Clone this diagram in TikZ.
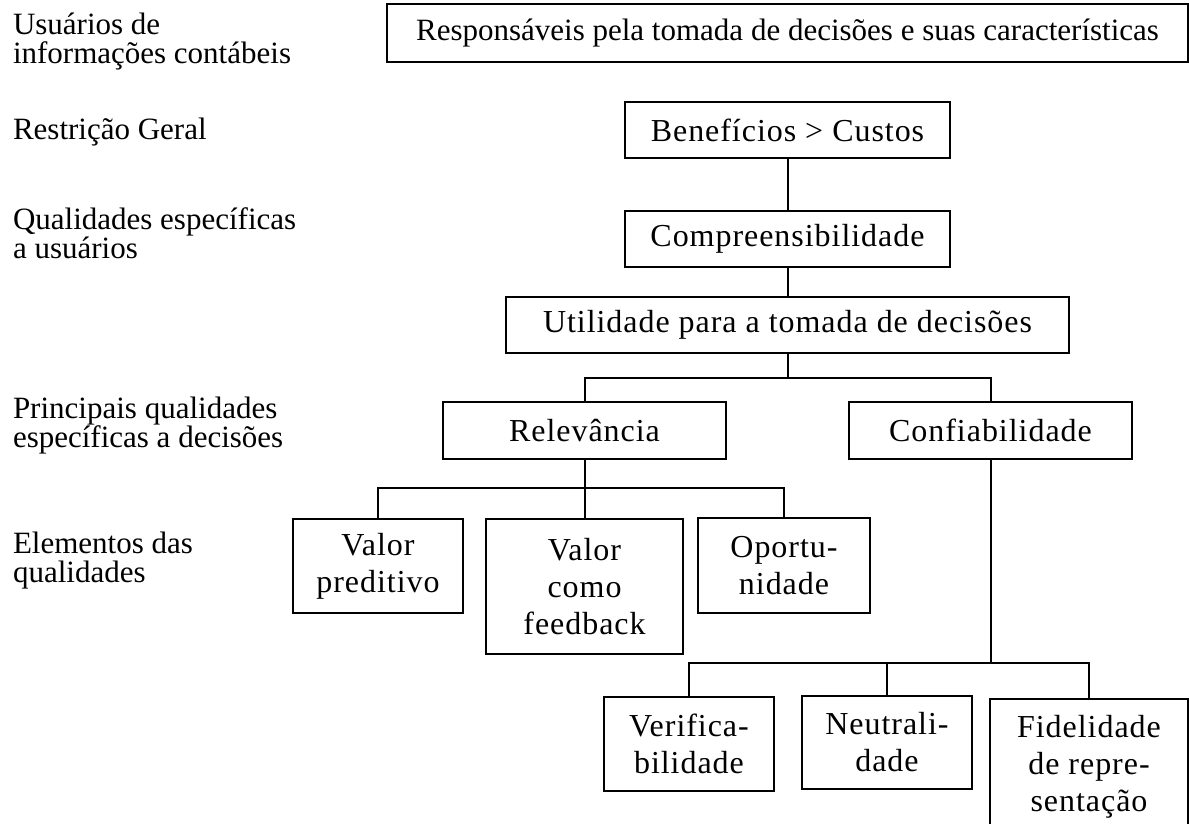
\documentclass[tikz,border=0pt]{standalone}
\usepackage{fontspec}
\setmainfont{Liberation Serif}
\newfontfamily\spacedfont[LetterSpace=3]{Liberation Serif}
\usetikzlibrary{positioning}

\begin{document}
\begin{tikzpicture}[x=1pt,y=1pt,inner sep=0pt,line width=2pt,
  every node/.style={font=\spacedfont\fontsize{32}{37}\selectfont},
  box/.style={draw,align=center},
  level label/.style={anchor=base west,align=left,font=\fontsize{31}{29}\selectfont}]
\useasboundingbox (0,0) rectangle (1189,-823);
\clip (0,0) rectangle (1189,-823);

\node[level label] (usuarios) at (12,-63) {Usuários de\\informações contábeis};
\node[level label] (restricao) at (12,-139) {Restrição Geral};
\node[level label] (qualidades usuarios) at (12,-258) {Qualidades específicas\\a usuários};
\node[level label] (principais) at (12,-447) {Principais qualidades\\específicas a decisões};
\node[level label] (elementos) at (12,-582) {Elementos das\\qualidades};

\node[box,minimum width=801pt,minimum height=58pt,font=\fontsize{31}{37}\selectfont] (responsaveis) at (787.5,-33) {Responsáveis pela tomada de decisões e suas características};
\node[box,minimum width=325pt,minimum height=56pt] (beneficios) [below=38pt of responsaveis] {Benefícios > Custos};
\node[box,minimum width=325pt,minimum height=56pt] (compreensibilidade) [below=51pt of beneficios] {Compreensibilidade};
\node[box,minimum width=563pt,minimum height=56pt] (utilidade) [below=28pt of compreensibilidade] {Utilidade para a tomada de decisões};
\node[box,minimum width=283pt,minimum height=57pt] (relevancia) [below=47pt of utilidade,xshift=-203pt] {Relevância};
\node[box,minimum width=283pt,minimum height=57pt] (confiabilidade) [below=47pt of utilidade,xshift=203pt] {Confiabilidade};
\node[box,minimum width=170pt,minimum height=94pt] (valor preditivo) [below=58pt of relevancia,xshift=-206.5pt] {Valor\\preditivo};
\node[box,minimum width=197pt,minimum height=135pt] (valor feedback) [below=58pt of relevancia] {Valor\\como\\feedback};
\node[box,minimum width=172pt,minimum height=95pt] (oportunidade) [below=57pt of relevancia,xshift=199.5pt] {Oportu-\\nidade};
\node[box,minimum width=170pt,minimum height=94pt] (verificabilidade) [below=236pt of confiabilidade,xshift=-301.5pt] {Verifica-\\bilidade};
\node[box,minimum width=170pt,minimum height=93pt] (neutralidade) [below=235pt of confiabilidade,xshift=-103.5pt] {Neutrali-\\dade};
\node[box,minimum width=198pt,minimum height=135pt] (fidelidade) [below=238pt of confiabilidade,xshift=98.5pt] {Fidelidade\\de repre-\\sentação};

\draw (beneficios) -- (compreensibilidade);
\draw (compreensibilidade) -- (utilidade);
\draw (utilidade.south) -- ++(0,-24) coordinate (utilidade bar);
\draw (utilidade bar) -| (relevancia.north);
\draw (utilidade bar) -| (confiabilidade.north);
\draw (relevancia.south) -- ++(0,-28) coordinate (relevancia bar);
\draw (relevancia bar) -| (valor preditivo.north);
\draw (relevancia bar) -- (valor feedback.north);
\draw (relevancia bar) -| (oportunidade.north);
\draw (confiabilidade.south) -- ++(0,-203) coordinate (confiabilidade bar);
\draw (confiabilidade bar) -| (verificabilidade.north);
\draw (confiabilidade bar) -| (neutralidade.north);
\draw (confiabilidade bar) -| (fidelidade.north);

\end{tikzpicture}
\end{document}
